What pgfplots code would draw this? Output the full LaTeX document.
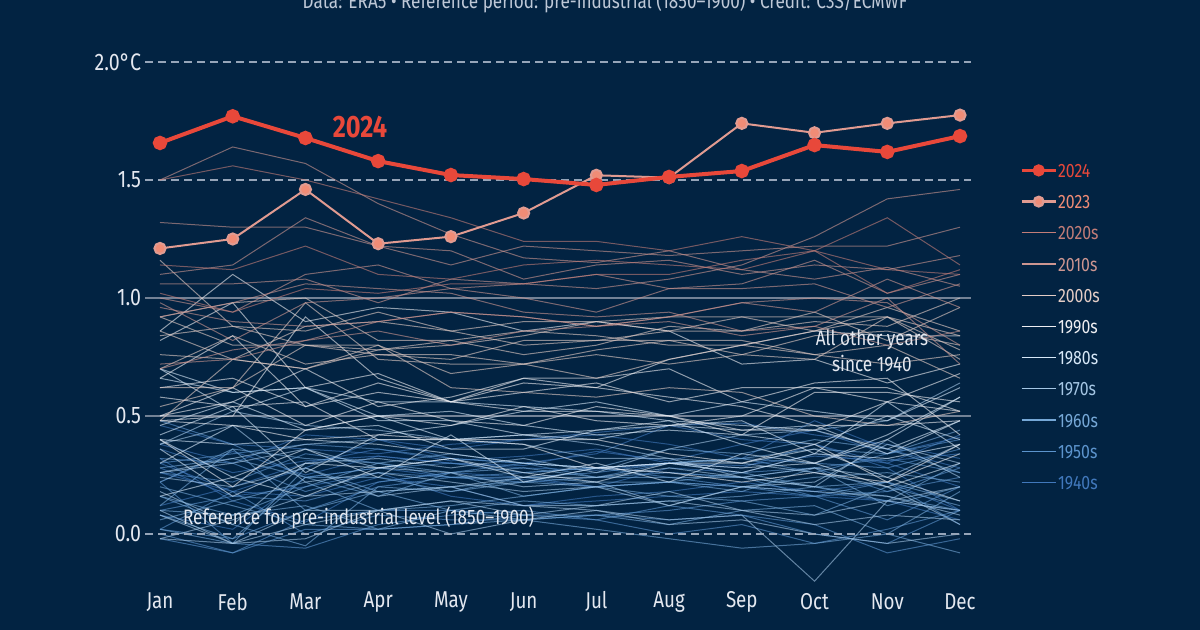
\documentclass[border=0pt]{standalone}
\usepackage{fontspec}
\setmainfont{Fira Sans}[FakeStretch=0.82]
\usepackage{pgfplots}
\usepackage{pgfplotstable}
\pgfplotsset{compat=1.18}

\definecolor{bg}{RGB}{2,35,66}
\definecolor{subt}{RGB}{190,200,215}
\definecolor{tick}{RGB}{228,232,240}
\definecolor{gridc}{RGB}{150,165,185}
\definecolor{grids}{RGB}{115,130,150}
\definecolor{c24}{RGB}{232,72,58}
\definecolor{c23}{RGB}{240,140,118}
\definecolor{c23l}{RGB}{225,155,145}
\definecolor{c20}{RGB}{195,125,120}
\definecolor{c10}{RGB}{205,150,145}
\definecolor{c00}{RGB}{228,205,198}
\definecolor{c90}{RGB}{238,238,242}
\definecolor{c80}{RGB}{215,232,248}
\definecolor{c70}{RGB}{165,198,228}
\definecolor{c60}{RGB}{118,168,215}
\definecolor{c50}{RGB}{92,148,205}
\definecolor{c40}{RGB}{65,120,188}

% monthly anomalies vs 1850-1900 (deg C), one row per year
\pgfplotstableread{
year m1 m2 m3 m4 m5 m6 m7 m8 m9 m10 m11 m12
y1940 0.12 0.20 0.30 0.36 0.31 0.33 0.36 0.30 0.28 0.38 0.30 0.42
y1941 0.38 0.30 0.42 0.40 0.36 0.40 0.42 0.38 0.32 0.48 0.36 0.28
y1942 0.36 0.26 0.31 0.33 0.30 0.28 0.27 0.30 0.29 0.33 0.31 0.34
y1943 0.22 0.35 0.25 0.33 0.30 0.29 0.35 0.31 0.38 0.44 0.34 0.41
y1944 0.46 0.38 0.36 0.34 0.38 0.40 0.43 0.46 0.47 0.42 0.38 0.32
y1945 0.30 0.18 0.28 0.40 0.32 0.30 0.34 0.46 0.40 0.38 0.28 0.10
y1946 0.28 0.16 0.20 0.26 0.16 0.12 0.16 0.18 0.22 0.18 0.22 0.10
y1947 0.08 0.02 0.24 0.28 0.24 0.23 0.20 0.28 0.26 0.34 0.30 0.20
y1948 0.32 0.14 0.05 0.22 0.26 0.24 0.20 0.22 0.20 0.18 0.14 0.06
y1949 0.26 0.18 0.16 0.24 0.20 0.12 0.14 0.16 0.18 0.16 0.14 0.10
y1950 -0.02 -0.08 0.06 0.10 0.10 0.08 0.08 0.06 0.08 0.00 -0.04 0.10
y1951 0.02 -0.02 0.10 0.20 0.24 0.24 0.26 0.30 0.32 0.30 0.28 0.36
y1952 0.32 0.30 0.18 0.26 0.24 0.22 0.24 0.26 0.24 0.16 0.06 0.20
y1953 0.30 0.34 0.38 0.36 0.32 0.30 0.28 0.30 0.26 0.28 0.18 0.28
y1954 0.02 0.18 0.00 0.08 0.06 0.06 0.08 0.10 0.14 0.16 0.22 0.04
y1955 0.22 -0.04 -0.06 0.04 0.08 0.10 0.06 0.12 0.08 0.04 -0.08 -0.02
y1956 0.00 -0.08 0.02 0.02 0.04 0.08 0.06 0.00 0.04 -0.04 0.02 0.10
y1957 0.10 0.16 0.14 0.22 0.26 0.30 0.24 0.30 0.32 0.26 0.34 0.40
y1958 0.48 0.38 0.24 0.28 0.30 0.26 0.28 0.26 0.24 0.28 0.32 0.26
y1959 0.26 0.22 0.34 0.30 0.24 0.26 0.28 0.24 0.20 0.16 0.18 0.24
y1960 0.16 0.04 -0.05 0.20 0.18 0.22 0.20 0.22 0.26 0.20 0.14 0.30
y1961 0.22 0.36 0.32 0.30 0.26 0.28 0.24 0.24 0.24 0.20 0.22 0.14
y1962 0.28 0.32 0.24 0.24 0.18 0.24 0.22 0.22 0.20 0.24 0.26 0.22
y1963 0.12 0.36 0.10 0.18 0.20 0.22 0.28 0.36 0.34 0.40 0.36 0.26
y1964 0.20 0.12 0.04 0.02 0.04 0.06 0.02 -0.02 -0.06 -0.04 0.00 -0.08
y1965 0.16 0.08 0.12 0.02 0.10 0.06 0.08 0.04 0.10 0.12 0.00 0.18
y1966 0.06 0.14 0.22 0.10 0.12 0.16 0.20 0.16 0.14 0.08 0.20 0.12
y1967 0.08 -0.02 0.24 0.16 0.26 0.16 0.20 0.22 0.18 0.28 0.12 0.20
y1968 0.02 -0.04 0.28 0.18 0.10 0.14 0.12 0.14 0.16 0.20 0.16 0.10
y1969 0.10 0.08 0.20 0.30 0.34 0.30 0.28 0.30 0.32 0.36 0.34 0.44
y1970 0.38 0.46 0.22 0.26 0.22 0.18 0.20 0.12 0.20 0.18 0.16 0.08
y1971 0.08 -0.04 0.04 0.10 0.14 0.08 0.12 0.14 0.10 0.08 0.14 0.10
y1972 -0.02 0.06 0.16 0.18 0.20 0.24 0.24 0.28 0.24 0.28 0.24 0.38
y1973 0.38 0.52 0.46 0.44 0.40 0.38 0.32 0.32 0.30 0.26 0.20 0.04
y1974 -0.02 -0.04 0.10 0.10 0.14 0.12 0.12 0.18 0.10 0.04 0.08 0.06
y1975 0.24 0.20 0.28 0.16 0.20 0.12 0.10 0.04 0.06 0.00 -0.04 0.00
y1976 0.10 -0.04 -0.02 0.10 0.00 0.06 0.10 0.06 0.08 -0.20 0.14 0.20
y1977 0.26 0.32 0.38 0.40 0.40 0.42 0.38 0.32 0.24 0.20 0.40 0.24
y1978 0.26 0.30 0.36 0.28 0.26 0.20 0.22 0.12 0.20 0.22 0.38 0.30
y1979 0.18 0.04 0.30 0.32 0.28 0.32 0.26 0.36 0.42 0.44 0.48 0.64
y1980 0.46 0.56 0.44 0.50 0.52 0.46 0.42 0.44 0.42 0.38 0.50 0.40
y1981 0.70 0.60 0.62 0.50 0.40 0.42 0.44 0.48 0.38 0.30 0.40 0.58
y1982 0.16 0.24 0.16 0.28 0.32 0.24 0.30 0.22 0.34 0.30 0.42 0.58
y1983 0.66 0.60 0.62 0.48 0.48 0.42 0.40 0.46 0.48 0.34 0.56 0.36
y1984 0.40 0.24 0.36 0.24 0.42 0.22 0.28 0.30 0.30 0.36 0.24 0.14
y1985 0.36 0.16 0.30 0.28 0.32 0.26 0.22 0.30 0.28 0.30 0.20 0.30
y1986 0.40 0.38 0.40 0.38 0.34 0.30 0.28 0.30 0.26 0.34 0.32 0.38
y1987 0.42 0.54 0.26 0.42 0.46 0.52 0.56 0.50 0.56 0.52 0.48 0.62
y1988 0.70 0.52 0.62 0.56 0.56 0.54 0.52 0.48 0.46 0.44 0.36 0.48
y1989 0.30 0.46 0.44 0.46 0.36 0.36 0.44 0.46 0.44 0.46 0.34 0.48
y1990 0.48 0.50 0.92 0.66 0.56 0.52 0.52 0.50 0.42 0.60 0.60 0.56
y1991 0.62 0.66 0.54 0.64 0.56 0.64 0.62 0.58 0.54 0.46 0.46 0.48
y1992 0.58 0.54 0.56 0.40 0.40 0.38 0.28 0.26 0.22 0.26 0.22 0.34
y1993 0.48 0.46 0.40 0.42 0.40 0.40 0.40 0.34 0.30 0.38 0.22 0.38
y1994 0.40 0.20 0.44 0.50 0.46 0.54 0.48 0.46 0.50 0.62 0.62 0.52
y1995 0.82 0.98 0.62 0.68 0.56 0.66 0.66 0.70 0.56 0.64 0.66 0.42
y1996 0.50 0.62 0.46 0.56 0.48 0.46 0.54 0.50 0.44 0.44 0.56 0.52
y1997 0.50 0.56 0.70 0.54 0.58 0.66 0.62 0.74 0.80 0.86 0.84 0.84
y1998 0.86 1.10 0.90 0.96 0.94 0.86 0.90 0.86 0.72 0.74 0.64 0.72
y1999 0.66 0.84 0.54 0.60 0.56 0.60 0.64 0.56 0.62 0.62 0.56 0.68
y2000 0.48 0.74 0.70 0.80 0.62 0.60 0.58 0.62 0.60 0.50 0.46 0.52
y2001 0.62 0.62 0.80 0.76 0.76 0.72 0.78 0.82 0.76 0.74 0.92 0.78
y2002 0.92 0.98 1.00 0.82 0.82 0.86 0.84 0.80 0.80 0.76 0.80 0.66
y2003 0.92 0.80 0.80 0.78 0.82 0.76 0.80 0.88 0.86 0.94 0.82 0.96
y2004 0.84 0.88 0.80 0.80 0.68 0.72 0.66 0.74 0.80 0.86 0.92 0.74
y2005 0.86 0.74 0.88 0.90 0.86 0.90 0.90 0.86 0.92 0.92 0.92 0.84
y2006 0.70 0.84 0.72 0.76 0.74 0.82 0.82 0.86 0.86 0.90 0.88 1.00
y2007 1.16 0.88 0.86 0.94 0.86 0.80 0.82 0.82 0.82 0.76 0.72 0.76
y2008 0.54 0.62 0.98 0.74 0.72 0.72 0.76 0.72 0.76 0.84 0.86 0.80
y2009 0.76 0.74 0.70 0.78 0.80 0.84 0.90 0.92 0.92 0.86 0.96 0.86
y2010 0.92 0.98 1.06 1.04 1.02 0.94 0.92 0.94 0.86 0.88 1.00 0.72
y2011 0.72 0.74 0.82 0.86 0.80 0.86 0.88 0.90 0.84 0.88 0.80 0.86
y2012 0.70 0.78 0.82 0.90 0.94 0.92 0.88 0.92 0.98 1.00 0.98 0.80
y2013 0.96 0.90 0.88 0.90 0.94 0.92 0.88 0.92 0.98 0.94 1.08 0.96
y2014 0.98 0.82 0.98 1.00 1.04 1.00 0.94 1.04 1.04 1.06 0.96 1.06
y2015 1.06 1.06 1.08 0.98 1.08 1.06 1.04 1.08 1.14 1.26 1.42 1.46
y2016 1.50 1.64 1.57 1.40 1.27 1.17 1.15 1.20 1.12 1.08 1.13 1.05
y2017 1.32 1.30 1.30 1.22 1.20 1.08 1.14 1.16 1.10 1.14 1.12 1.18
y2018 1.00 0.94 1.10 1.14 1.04 1.06 1.10 1.04 1.06 1.16 1.02 1.10
y2019 1.10 1.14 1.34 1.22 1.14 1.22 1.20 1.18 1.20 1.22 1.22 1.30
y2020 1.50 1.56 1.50 1.42 1.34 1.24 1.24 1.20 1.26 1.20 1.34 1.14
y2021 1.02 0.94 1.04 1.02 1.06 1.06 1.10 1.10 1.16 1.20 1.12 1.10
y2022 1.14 1.12 1.22 1.10 1.08 1.14 1.16 1.14 1.12 1.20 1.02 1.12
}\rawyears
\pgfplotstabletranspose[colnames from=year]{\others}{\rawyears}

\pgfplotsset{
  thin/.style={line width=0.5bp, opacity=0.6, forget plot, mark=none},
}

\begin{document}
\begin{tikzpicture}
\fill[bg] (-80bp,-48bp) rectangle (520bp,267bp);
\node[anchor=base, font=\fontsize{10.5}{12}\selectfont, text=subt] at (222.5bp,262.5bp)
  {Data: ERA5 • Reference period: pre-industrial (1850–1900) • Credit: C3S/ECMWF};
\begin{axis}[
  anchor=origin, at={(0,0)},
  x=36.3636bp, y=118bp,
  xmin=-0.2, xmax=11.15, ymin=-0.22, ymax=2.05,
  clip=false,
  axis line style={draw=none},
  major tick length=0pt,
  xtick={0,...,11},
  xticklabels={Jan,Feb,Mar,Apr,May,Jun,Jul,Aug,Sep,Oct,Nov,Dec},
  ytick={0,0.5,1,1.5,2},
  yticklabels={0.0,0.5,1.0,1.5,2.0°C},
  ticklabel style={text=tick},
  xticklabel style={anchor=center, yshift=-8bp, font=\fontsize{11.5}{13}\selectfont},
  yticklabel style={inner sep=2bp, font=\fontsize{12}{14}\selectfont},
  legend cell align=left,
  legend style={draw=none, fill=none, inner sep=0pt,
    at={(1.0595,0.7913)}, anchor=north west, row sep=7.6bp,
    nodes={inner sep=0.5bp, text height=7bp, text depth=0pt,
      font=\fontsize{9.7}{11}\selectfont},
    /tikz/every even column/.append style={column sep=5bp}},
]
% reference lines
\draw[gridc, line width=1bp, dash pattern=on 4bp off 2.5bp] (axis cs:-0.2,2) -- (axis cs:11.15,2);
\draw[gridc, line width=1bp, dash pattern=on 4bp off 2.5bp] (axis cs:-0.2,1.5) -- (axis cs:11.15,1.5);
\draw[grids, line width=0.8bp] (axis cs:-0.2,1) -- (axis cs:11.15,1);
\draw[grids, line width=0.8bp] (axis cs:-0.2,0.5) -- (axis cs:11.15,0.5);

\pgfplotsinvokeforeach{1940,...,1949}{\addplot[thin, c40] table[x expr=\coordindex, y=y#1]{\others};}
\pgfplotsinvokeforeach{1950,...,1959}{\addplot[thin, c50] table[x expr=\coordindex, y=y#1]{\others};}
\pgfplotsinvokeforeach{1960,...,1969}{\addplot[thin, c60] table[x expr=\coordindex, y=y#1]{\others};}
\pgfplotsinvokeforeach{1970,...,1979}{\addplot[thin, c70] table[x expr=\coordindex, y=y#1]{\others};}
\pgfplotsinvokeforeach{1980,...,1989}{\addplot[thin, c80] table[x expr=\coordindex, y=y#1]{\others};}
\pgfplotsinvokeforeach{1990,...,1999}{\addplot[thin, c90] table[x expr=\coordindex, y=y#1]{\others};}
\pgfplotsinvokeforeach{2000,...,2009}{\addplot[thin, c00] table[x expr=\coordindex, y=y#1]{\others};}
\pgfplotsinvokeforeach{2010,...,2019}{\addplot[thin, c10] table[x expr=\coordindex, y=y#1]{\others};}
\pgfplotsinvokeforeach{2020,...,2022}{\addplot[thin, c20] table[x expr=\coordindex, y=y#1]{\others};}

\draw[gridc, line width=1bp, dash pattern=on 4bp off 2.5bp] (axis cs:-0.2,0) -- (axis cs:11.15,0);

% 2023
\addplot[c23l, line width=1bp, mark=*, mark size=2.8bp,
  mark options={fill=c23, draw=none}, forget plot] coordinates {
  (0,1.21) (1,1.25) (2,1.46) (3,1.23) (4,1.26) (5,1.36)
  (6,1.52) (7,1.51) (8,1.74) (9,1.70) (10,1.74) (11,1.775)
};
% 2024
\addplot[c24, line width=2bp, mark=*, mark size=2.6bp,
  mark options={fill=c24, draw=none}, forget plot] coordinates {
  (0,1.657) (1,1.77) (2,1.678) (3,1.58) (4,1.521) (5,1.504)
  (6,1.479) (7,1.513) (8,1.538) (9,1.648) (10,1.619) (11,1.686)
};

\node[text=c24, font=\bfseries\fontsize{15.5}{17}\selectfont] at (axis cs:2.75,1.725) {2024};
\node[text=tick, align=center, font=\fontsize{10.5}{13}\selectfont] at (axis cs:9.79,0.775)
  {All other years\\since 1940};
\node[text=tick, anchor=base west, font=\fontsize{10.5}{12}\selectfont] at (axis cs:0.22,0.042)
  {Reference for pre-industrial level (1850–1900)};

% legend
\addlegendimage{c24, line width=1.3bp, mark=*, mark size=2.4bp, mark options={fill=c24, draw=none}}
\addlegendentry{\textcolor{c24}{2024}}
\addlegendimage{c23l, line width=1.2bp, mark=*, mark size=2.4bp, mark options={fill=c23, draw=none}}
\addlegendentry{\textcolor{c23}{2023}}
\addlegendimage{c20, line width=0.6bp}\addlegendentry{\textcolor{c20}{2020s}}
\addlegendimage{c10, line width=0.6bp}\addlegendentry{\textcolor{c10}{2010s}}
\addlegendimage{c00, line width=0.6bp}\addlegendentry{\textcolor{c00}{2000s}}
\addlegendimage{c90, line width=0.6bp}\addlegendentry{\textcolor{c90}{1990s}}
\addlegendimage{c80, line width=0.6bp}\addlegendentry{\textcolor{c80}{1980s}}
\addlegendimage{c70, line width=0.6bp}\addlegendentry{\textcolor{c70}{1970s}}
\addlegendimage{c60, line width=0.6bp}\addlegendentry{\textcolor{c60}{1960s}}
\addlegendimage{c50, line width=0.6bp}\addlegendentry{\textcolor{c50}{1950s}}
\addlegendimage{c40, line width=0.6bp}\addlegendentry{\textcolor{c40}{1940s}}
\end{axis}
\pgfresetboundingbox
\path[use as bounding box] (-80bp,-48bp) rectangle (520bp,267bp);
\end{tikzpicture}
\end{document}
